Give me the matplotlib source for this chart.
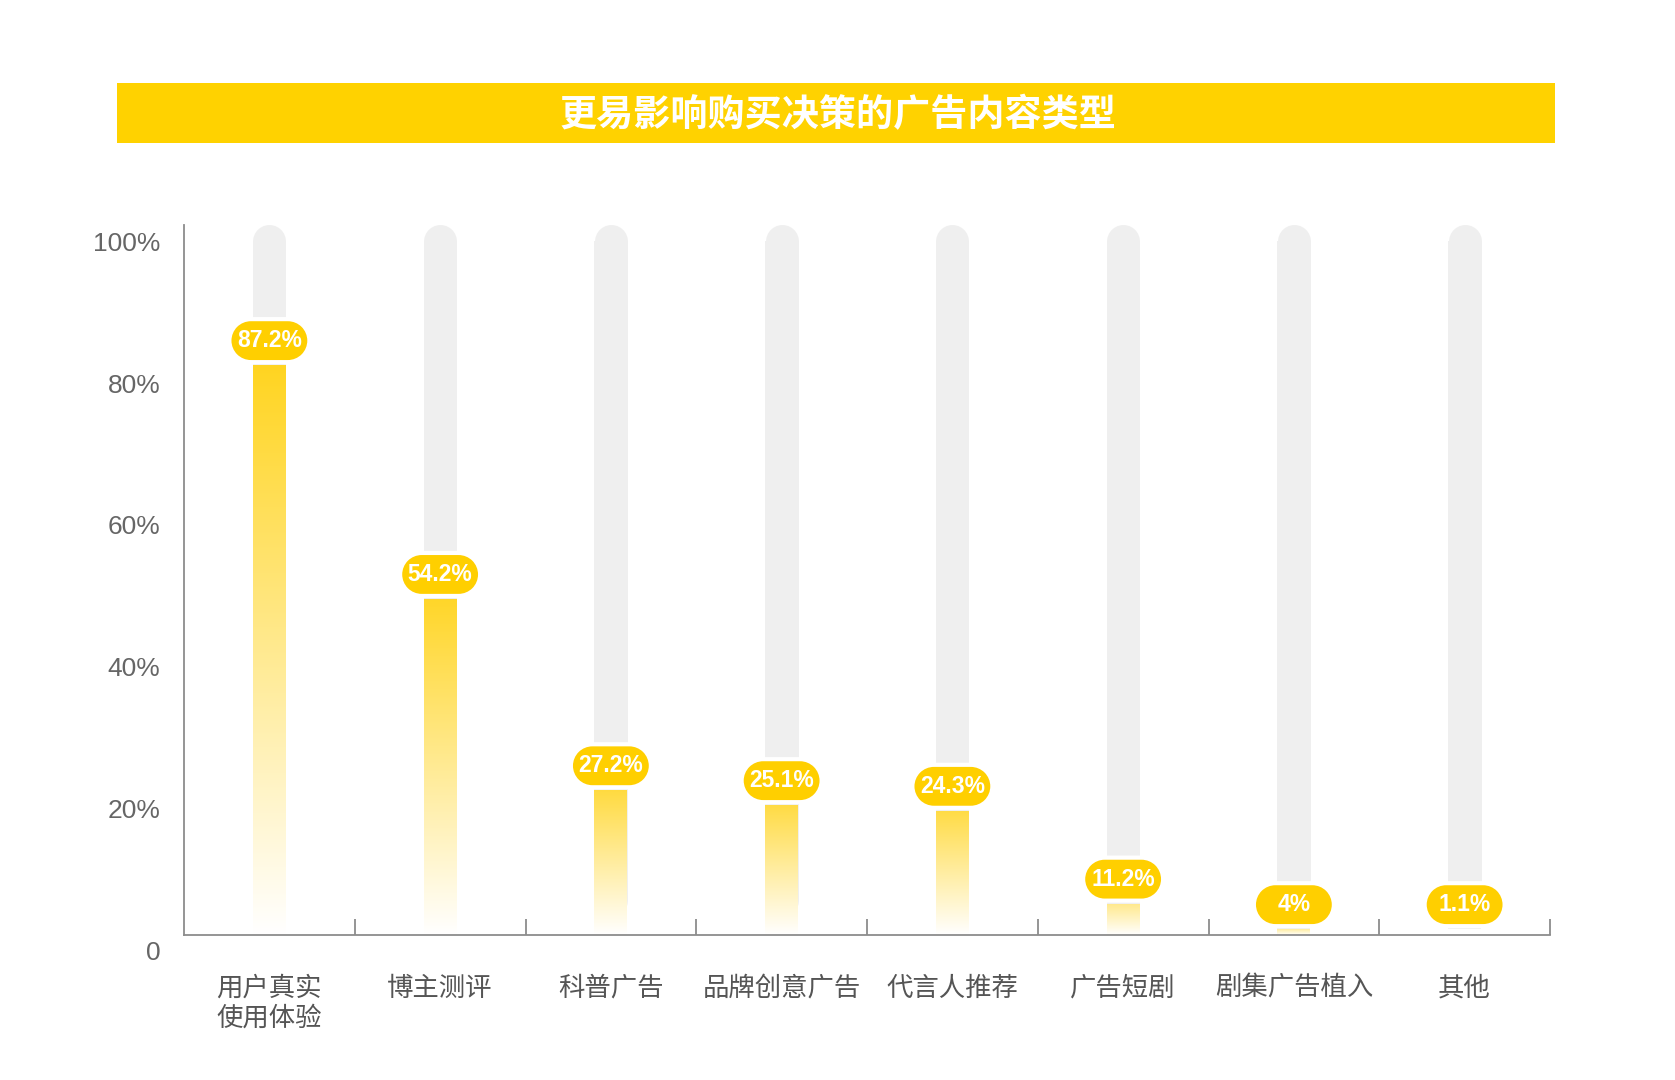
import numpy as np
import matplotlib
matplotlib.use("Agg")
import matplotlib.pyplot as plt
from matplotlib.patches import Rectangle, PathPatch
from matplotlib.path import Path
from matplotlib.transforms import ScaledTranslation

# ---------------- data ----------------
title = "更易影响购买决策的广告内容类型"
categories = ["用户真实\n使用体验", "博主测评", "科普广告", "品牌创意广告",
              "代言人推荐", "广告短剧", "剧集广告植入", "其他"]
values = [87.2, 54.2, 27.2, 25.1, 24.3, 11.2, 4.0, 1.1]
value_labels = ["87.2%", "54.2%", "27.2%", "25.1%", "24.3%", "11.2%", "4%", "1.1%"]
ytick_values = [0, 20, 40, 60, 80, 100]
ytick_labels = ["0", "20%", "40%", "60%", "80%", "100%"]
track_max = 100

# ---------------- style ----------------
YELLOW = "#FFCF00"
BAR_TOP = np.array([255, 210, 20]) / 255.0
WHITE = np.array([1.0, 1.0, 1.0])
TRACK = "#EFEFEF"
AXIS = "#8C8C8C"
CJK = ["Noto Sans CJK SC", "DejaVu Sans"]
LAT = ["Liberation Sans", "DejaVu Sans"]

W, H, DPI = 1675, 1080, 100
fig = plt.figure(figsize=(W / DPI, H / DPI), dpi=DPI)
fig.patch.set_facecolor("white")

# title banner
fig.patches.append(Rectangle((117 / W, 1 - 143 / H), (1555 - 117) / W, 60 / H,
                             transform=fig.transFigure, facecolor="#FFD200",
                             edgecolor="none", zorder=0))
fig.text(0.5, 1 - 116 / H, title, ha="center", va="center", color="white",
         fontsize=26.7, fontweight="bold", family=CJK)

ax = fig.add_axes([184 / W, 1 - 950 / H, (1550 - 184) / W, 744 / H])
n = len(categories)
ax.set_xlim(0, n)
ax.set_ylim(0, 105)
base = 2.1  # where the category axis is drawn

for s in ["top", "right"]:
    ax.spines[s].set_visible(False)
ax.spines["bottom"].set_position(("data", base))
ax.spines["left"].set_bounds(base, 102.3)
for s in ["bottom", "left"]:
    ax.spines[s].set_color(AXIS)
    ax.spines[s].set_linewidth(1.3)

# ticks
ax.set_yticks(ytick_values)
ax.set_yticklabels(ytick_labels, family=LAT, fontsize=19, color="#666666")
ax.tick_params(axis="y", length=0, pad=17)

ax.set_xticks(np.arange(1, n + 1))
ax.set_xticklabels([])
ax.tick_params(axis="x", which="major", direction="in", length=11.5,
               width=1.3, color=AXIS)
centers = np.arange(n) + 0.5
ax.set_xticks(centers, minor=True)
ax.set_xticklabels(categories, minor=True, family=CJK, fontsize=19,
                   color="#555555", linespacing=1.15)
ax.tick_params(axis="x", which="minor", length=0, pad=28.5)

tw = 33 / 170.75  # track width in data units
px_per_unit = 744 / 105.0
cap = (33 / 2) / px_per_unit

# gray tracks with rounded top
for x in centers:
    ax.bar(x, track_max - base, bottom=base, width=tw, color=TRACK,
           zorder=1, linewidth=0)
    ax.plot([x, x], [base + 5, track_max], color=TRACK,
            lw=33 * 72 / DPI, solid_capstyle="round", zorder=1)


def stadium(w, h):
    r = h / 2.0
    d = w / 2.0 - r
    right = Path.arc(-90, 90)
    left = Path.arc(90, 270)
    vr = right.vertices * r + np.array([d, 0])
    vl = left.vertices * r + np.array([-d, 0])
    cl = left.codes.copy()
    cl[0] = Path.LINETO
    verts = np.vstack([vr, vl, vr[:1]])
    codes = np.concatenate([right.codes, cl, [Path.CLOSEPOLY]])
    return Path(verts, codes)


pill = stadium(0.80, 0.43)
bub_h = 42 / px_per_unit
gap = 4 / px_per_unit
for x, v, lab in zip(centers, values, value_labels):
    c = max(v - 1.2, 6.4)
    top = c - bub_h / 2 - gap
    if top > base:
        # gradient from yellow at value down to white at the axis
        ys = np.linspace(top, base, 200)
        t = np.clip((v - ys) / (v - base), 0, 1)[:, None]
        img = BAR_TOP[None, :] * (1 - t) + WHITE[None, :] * t
        img = np.repeat(img[:, None, :], 2, axis=1)
        ax.imshow(img, extent=[x - tw / 2, x + tw / 2, base, top],
                  aspect="auto", zorder=2, interpolation="bilinear")
    # bubble
    tr = fig.dpi_scale_trans + ScaledTranslation(x, c, ax.transData)
    p = PathPatch(pill, transform=tr, facecolor=YELLOW, edgecolor="white",
                  linewidth=3, zorder=3, clip_on=False)
    ax.add_patch(p)
    ax.text(x, c, lab, ha="center", va="center", color="white",
            fontsize=16.5, fontweight="bold", family=LAT, zorder=4)

ax.set_xlim(0, n)
ax.set_ylim(0, 105)
ax.set_facecolor("white")

fig.savefig("out.png", dpi=DPI, facecolor="white")
